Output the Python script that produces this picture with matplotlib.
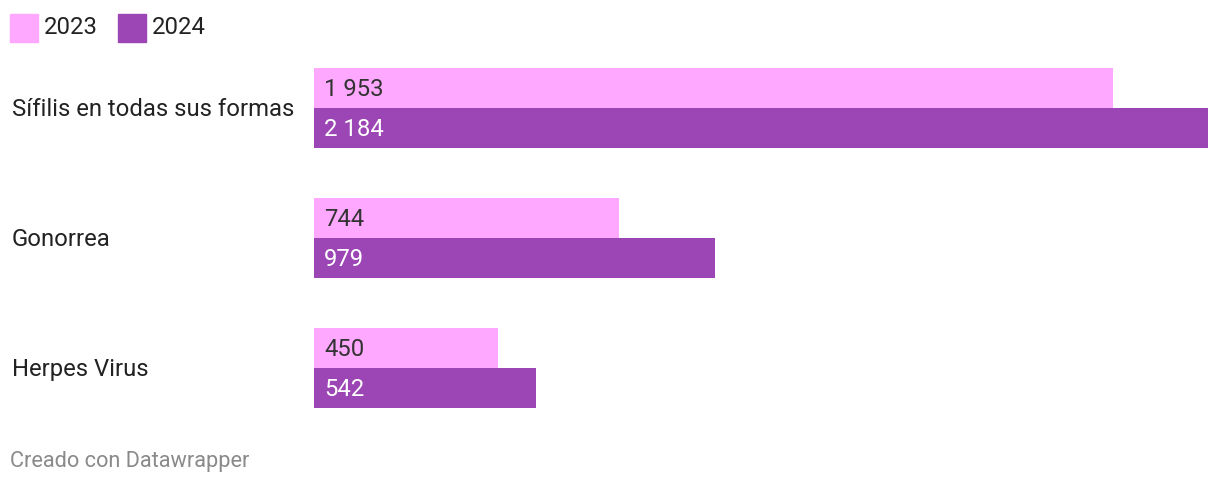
import matplotlib.pyplot as plt
from matplotlib.patches import Rectangle
from matplotlib.transforms import offset_copy

plt.rcParams['font.family'] = ['Roboto', 'DejaVu Sans']

categorias = ["Sífilis en todas sus formas", "Gonorrea", "Herpes Virus"]
valores_2023 = [1953, 744, 450]
valores_2024 = [2184, 979, 542]
anios = ["2023", "2024"]
colores = ["#ffa8ff", "#9c45b5"]

W, H = 1220, 486
fig = plt.figure(figsize=(W / 100, H / 100), dpi=100)

# ejes colocados en pixeles: barras de 314 a 1208, de 68 a 408
ax = fig.add_axes([314 / W, (H - 408) / H, (1208 - 314) / W, 340 / H])
alto = 40 / 130
pos = list(range(len(categorias)))
y23 = [p - alto / 2 for p in pos]
y24 = [p + alto / 2 for p in pos]
ax.barh(y23, valores_2023, height=alto, color=colores[0])
ax.barh(y24, valores_2024, height=alto, color=colores[1])
ax.set_xlim(0, max(valores_2024))
ax.set_ylim(len(categorias) - 1 + alto, -alto)
ax.axis("off")

fs = 17.2
abajo = offset_copy(ax.transData, fig=fig, x=0, y=-1.5, units="dots")


def fmt(v):
    return f"{v:,}".replace(",", " ")


desplaz = 10 * max(valores_2024) / (1208 - 314)
for y, v in zip(y23, valores_2023):
    ax.text(desplaz, y, fmt(v), va="center", ha="left", fontsize=fs,
            color="#333333", transform=abajo)
for y, v in zip(y24, valores_2024):
    ax.text(desplaz, y, fmt(v), va="center", ha="left", fontsize=fs,
            color="white", transform=abajo)

# etiquetas de categoria
for p, c in zip(pos, categorias):
    yp = ax.transData.transform((0, p))[1] - 1.5
    fig.text(12 / W, yp / H, c, va="center", ha="left", fontsize=fs, color="#222222")

# leyenda
for x0, anio, col in [(10, anios[0], colores[0]), (118, anios[1], colores[1])]:
    fig.patches.append(Rectangle((x0 / W, (H - 42) / H), 28 / W, 28 / H,
                                 transform=fig.transFigure, color=col))
    fig.text((x0 + 34) / W, (H - 28) / H, anio, va="center", ha="left",
             fontsize=fs, color="#222222")

fig.text(10 / W, (H - 461) / H, "Creado con Datawrapper", va="center", ha="left",
         fontsize=15.7, color="#8a8a8a")

fig.savefig("out.png", dpi=100, facecolor="white")
